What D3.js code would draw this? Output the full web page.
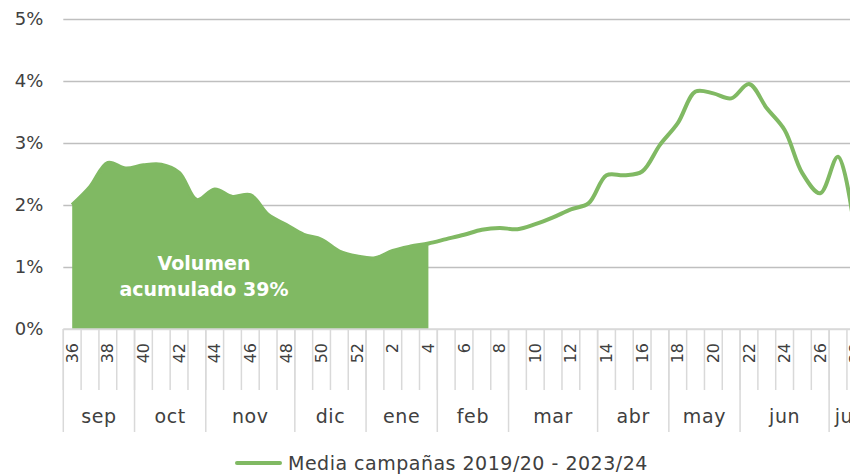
<!DOCTYPE html>
<html>
<head>
<meta charset="utf-8">
<script src="https://cdn.jsdelivr.net/npm/d3@7"></script>
<style>
  body { margin: 0; background: #fff; }
  svg { display: block; font-family: "Century Gothic", "DejaVu Sans", sans-serif; }
</style>
</head>
<body>
<svg width="850" height="474"></svg>
<script>
// semanas de la campaña (36 a 28)
const weeks = ['36','37','38','39','40','41','42','43','44','45','46','47','48','49','50','51','52',
  '1','2','3','4','5','6','7','8','9','10','11','12','13','14','15','16','17','18','19','20','21','22','23','24','25','26','27','28'];

// % medio semanal
const values = [2.0, 2.29, 2.68, 2.59, 2.64, 2.65, 2.52, 2.08, 2.25, 2.13, 2.16, 1.84, 1.68, 1.52, 1.44, 1.25, 1.17,
  1.14, 1.26, 1.33, 1.38, 1.45, 1.52, 1.60, 1.63, 1.61, 1.69, 1.80, 1.93, 2.03, 2.48, 2.48, 2.54, 2.97, 3.32, 3.83,
  3.80, 3.72, 3.95, 3.56, 3.21, 2.51, 2.19, 2.78, 1.45];

const months = ['sep','oct','nov','dic','ene','feb','mar','abr','may','jun','jul'];
const monthWeeks = [4, 4, 5, 4, 4, 4, 5, 4, 4, 5, 2];

const yTicks = [0, 1, 2, 3, 4, 5];
const areaEnd = '4';
const areaLabel = ['Volumen', 'acumulado 39%'];
const seriesName = 'Media campañas 2019/20 - 2023/24';

const green = '#80b963';
const textColor = '#404040';
const svg = d3.select('svg');
const plotLeft = 63.3, plotTop = 19, plotBottom = 329;
const bandW = 17.81;
const plotRight = plotLeft + weeks.length * bandW;

const x = d3.scaleBand().domain(weeks).range([plotLeft, plotRight]).padding(0);
const y = d3.scaleLinear().domain([0, 5]).range([plotBottom, plotTop]);

const data = weeks.map((w, i) => ({week: w, value: values[i]}));

// grid + y axis
const yAxis = d3.axisLeft(y).tickValues(yTicks).tickFormat(d => d + '%')
  .tickSize(-(plotRight - plotLeft)).tickPadding(20);
const gy = svg.append('g').attr('transform', `translate(${plotLeft},0)`).call(yAxis);
gy.select('.domain').remove();
gy.selectAll('.tick line').attr('stroke', d => d === 0 ? '#d9d9d9' : '#bfbfbf').attr('stroke-width', 1.5);
gy.selectAll('.tick text').attr('fill', textColor).attr('font-size', 18)
  .attr('font-family', '"Century Gothic", "DejaVu Sans", sans-serif');

// area (volumen acumulado)
const curve = d3.curveCatmullRom.alpha(0.5);
const endIdx = weeks.indexOf(areaEnd);
const area = d3.area()
  .x(d => x(d.week) + x.bandwidth() / 2)
  .y0(y(0)).y1(d => y(d.value)).curve(curve);
svg.append('path').datum(data.slice(0, endIdx + 1))
  .attr('d', area).attr('fill', green);

// line
const line = d3.line()
  .x(d => x(d.week) + x.bandwidth() / 2)
  .y(d => y(d.value)).curve(curve);
svg.append('path').datum(data)
  .attr('d', line).attr('fill', 'none').attr('stroke', green)
  .attr('stroke-width', 4).attr('stroke-linejoin', 'round');

// area label
const labelX = 204;
svg.append('text').attr('x', labelX).attr('y', 270).attr('text-anchor', 'middle')
  .attr('fill', '#fff').attr('font-weight', 'bold').attr('font-size', 19).text(areaLabel[0]);
svg.append('text').attr('x', labelX).attr('y', 296).attr('text-anchor', 'middle')
  .attr('fill', '#fff').attr('font-weight', 'bold').attr('font-size', 19).text(areaLabel[1]);

// category axis: week separators
const sepColor = '#d9d9d9';
const gx = svg.append('g');
gx.selectAll('line.wk').data(weeks).join('line')
  .attr('x1', d => x(d)).attr('x2', d => x(d))
  .attr('y1', plotBottom).attr('y2', 390)
  .attr('stroke', sepColor).attr('stroke-width', 1.5);

// week labels, every second one
const xAxis = d3.axisBottom(x).tickSize(0)
  .tickFormat((d, i) => i % 2 === 0 ? d : '');
const gw = svg.append('g').attr('transform', `translate(0,${plotBottom})`).call(xAxis);
gw.select('.domain').remove();
gw.selectAll('.tick text')
  .attr('transform', 'rotate(-90)')
  .attr('x', -14).attr('y', 0).attr('dy', '0.35em')
  .attr('text-anchor', 'end')
  .attr('fill', textColor).attr('font-size', 16)
  .attr('font-family', '"Century Gothic", "DejaVu Sans", sans-serif');

// month groups
let start = 0;
const monthData = months.map((m, i) => {
  const s = start;
  start += monthWeeks[i];
  return {name: m, first: weeks[s], last: weeks[Math.min(start, weeks.length) - 1]};
});
gx.selectAll('line.mo').data(monthData).join('line')
  .attr('x1', d => x(d.first)).attr('x2', d => x(d.first))
  .attr('y1', plotBottom).attr('y2', 432)
  .attr('stroke', sepColor).attr('stroke-width', 1.5);
gx.selectAll('text.mo').data(monthData).join('text')
  .attr('x', d => (x(d.first) + x(d.last) + x.bandwidth()) / 2)
  .attr('y', 423).attr('text-anchor', 'middle')
  .attr('fill', textColor).attr('font-size', 19).attr('letter-spacing', 0.6)
  .text(d => d.name);

// axis baseline
svg.append('line').attr('x1', plotLeft).attr('x2', plotRight)
  .attr('y1', plotBottom).attr('y2', plotBottom).attr('stroke', sepColor).attr('stroke-width', 1.5);

// legend
const lg = svg.append('g').attr('transform', 'translate(237,463)');
lg.append('line').attr('x1', 0).attr('x2', 43).attr('y1', 0).attr('y2', 0)
  .attr('stroke', green).attr('stroke-width', 4).attr('stroke-linecap', 'round');
lg.append('text').attr('x', 51).attr('y', 7).attr('fill', textColor)
  .attr('font-size', 19).attr('letter-spacing', 0.5).text(seriesName);
</script>
</body>
</html>
